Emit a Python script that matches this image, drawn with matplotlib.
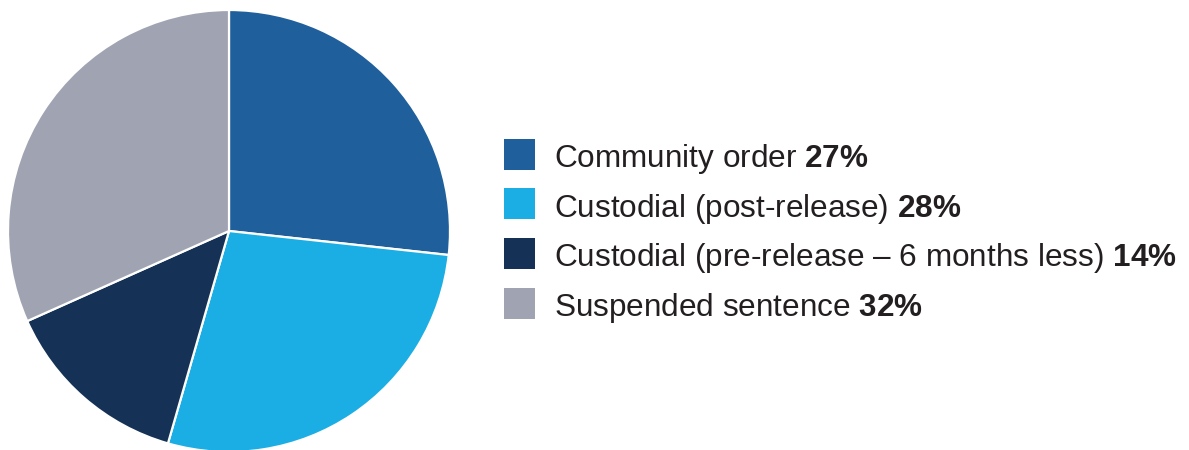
import matplotlib
matplotlib.use("Agg")
import matplotlib.pyplot as plt
from matplotlib.patches import Rectangle

plt.rcParams['font.family'] = ['Liberation Sans', 'DejaVu Sans']
plt.rcParams['mathtext.fontset'] = 'custom'
plt.rcParams['mathtext.rm'] = 'Liberation Sans'
plt.rcParams['mathtext.bf'] = 'Liberation Sans:bold'

categories = ["Community order", "Custodial (post-release)",
              "Custodial (pre-release \u2013 6 months less)", "Suspended sentence"]
shares = [27, 28, 14, 32]
colors = ['#1e5f9c', '#1baee4', '#153256', '#a0a3b1']

W, H = 1189, 450
fig = plt.figure(figsize=(W / 100, H / 100), dpi=100)

# pie: centre (229, 219) px from bottom-left, radius 221 px
cx, cy, r = 229, 219, 221
ax = fig.add_axes([(cx - r) / W, (cy - r) / H, 2 * r / W, 2 * r / H])
ax.pie(shares, colors=colors, startangle=90, counterclock=False,
       wedgeprops=dict(edgecolor='white', linewidth=1.6))
ax.set_xlim(-1.0, 1.0)
ax.set_ylim(-1.0, 1.0)
ax.set_aspect('equal')
ax.axis('off')

# legend drawn by hand
row0, step = 154, 49.7
for i, (name, val, col) in enumerate(zip(categories, shares, colors)):
    yc = H - (row0 + i * step)
    fig.patches.append(Rectangle((504 / W, (yc - 15.5) / H), 31 / W, 31 / H,
                                 transform=fig.transFigure, facecolor=col,
                                 edgecolor='none'))
    fig.text(554 / W, (yc - 13) / H, name + r" $\bf{" + str(val) + r"\%}$",
             fontsize=22.7, color='#231f20', va='baseline', ha='left')

fig.savefig("out.png", dpi=100)
